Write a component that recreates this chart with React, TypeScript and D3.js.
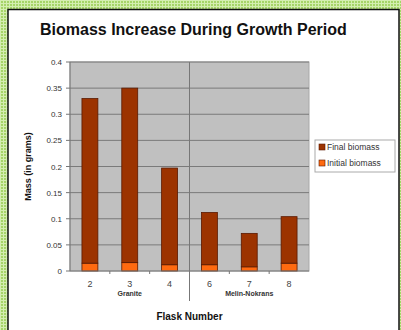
import React from "react";
import * as d3 from "d3";

const flasks = ["2", "3", "4", "6", "7", "8"];
const groups = ["Granite", "Melin-Nokrans"];
const groupOf = ["Granite", "Granite", "Granite", "Melin-Nokrans", "Melin-Nokrans", "Melin-Nokrans"];
const finalBiomass = [0.33, 0.35, 0.197, 0.112, 0.072, 0.104];
const initialBiomass = [0.015, 0.016, 0.012, 0.012, 0.008, 0.015];
const yTicks = [0, 0.05, 0.1, 0.15, 0.2, 0.25, 0.3, 0.35, 0.4];
const seriesNames = ["Final biomass", "Initial biomass"];
const seriesColors = ["#9c3300", "#ff6a10"];

const W = 401;
const H = 330;
const plot = { left: 70, right: 309, top: 62, bottom: 271 };
const font = "'Liberation Sans', Arial, sans-serif";

export default function App() {
  const x = d3.scaleBand<string>().domain(flasks).range([plot.left, plot.right]).paddingInner(0.6).paddingOuter(0.3);
  const step = x.step();
  const bw = x.bandwidth();
  const y = d3.scaleLinear().domain([0, 0.4]).range([plot.bottom, plot.top]);
  const fmt = (v: number) => (v === 0 ? "0" : String(v));

  const rows = flasks.map((f, i) => ({ flask: f, initial: initialBiomass[i], finalSeg: finalBiomass[i] - initialBiomass[i] }));
  const stack = d3.stack<any>().keys(["initial", "finalSeg"])(rows);

  const groupBounds = groups.map((g) => {
    const idx = groupOf.map((gg, i) => (gg === g ? i : -1)).filter((i) => i >= 0);
    const x0 = (x(flasks[idx[0]]) as number) + bw / 2;
    const x1 = (x(flasks[idx[idx.length - 1]]) as number) + bw / 2;
    return { g, cx: (x0 + x1) / 2, end: x1 + step / 2 };
  });

  return (
    <svg width={W} height={H} style={{ position: "absolute", left: 0, top: 0 }} fontFamily={font}>
      <defs>
        <pattern id="chk" width="3" height="3" patternUnits="userSpaceOnUse">
          <rect width="3" height="3" fill="#a6d468" />
          <rect width="1" height="3" fill="#d4eeb0" />
          <rect width="3" height="1" fill="#d4eeb0" />
        </pattern>
      </defs>
      <rect x={0} y={0} width={W} height={H} fill="url(#chk)" />
      <rect x={8} y={9.5} width={391} height={H} fill="#ffffff" stroke="#111" strokeWidth={1.5} />

      <text x={40} y={35} fontSize={16} fontWeight="bold" fill="#111">
        Biomass Increase During Growth Period
      </text>

      <rect x={plot.left} y={plot.top} width={plot.right - plot.left} height={plot.bottom - plot.top} fill="#c0c0c0" stroke="#a8a8a8" strokeWidth={1} />
      {yTicks.map((t) => (
        <g key={t}>
          {t > 0 && <line x1={plot.left} x2={plot.right} y1={y(t)} y2={y(t)} stroke="#7a7a7a" strokeWidth={1} />}
          <line x1={plot.left - 4} x2={plot.left} y1={y(t)} y2={y(t)} stroke="#777" strokeWidth={1} />
          <text x={plot.left - 8} y={y(t) + 3} fontSize={8} fill="#333" textAnchor="end">
            {fmt(t)}
          </text>
        </g>
      ))}
      <line x1={plot.left} x2={plot.left} y1={plot.top} y2={plot.bottom} stroke="#777" strokeWidth={1} />

      {stack.map((s, si) =>
        s.map((d, i) => (
          <rect
            key={si + "-" + i}
            x={x(flasks[i])}
            y={y(d[1])}
            width={bw}
            height={y(d[0]) - y(d[1])}
            fill={si === 0 ? seriesColors[1] : seriesColors[0]}
            stroke="#5a1a00"
            strokeWidth={0.8}
          />
        ))
      )}

      <line x1={plot.left} x2={plot.right} y1={plot.bottom} y2={plot.bottom} stroke="#777" strokeWidth={1} />
      {flasks.map((f, i) => (
        <g key={f}>
          {i > 0 && (
            <line x1={(x(f) as number) - (step - bw) / 2} x2={(x(f) as number) - (step - bw) / 2} y1={plot.bottom} y2={plot.bottom + 3} stroke="#777" />
          )}
          <text x={(x(f) as number) + bw / 2} y={plot.bottom + 16} fontSize={9} fill="#444" textAnchor="middle">
            {f}
          </text>
        </g>
      ))}
      {groupBounds.slice(0, -1).map((gb) => (
        <line key={gb.g} x1={gb.end} x2={gb.end} y1={plot.top} y2={plot.bottom + 30} stroke="#777" strokeWidth={1} />
      ))}
      {groupBounds.map((gb) => (
        <text key={gb.g} x={gb.cx} y={plot.bottom + 25} fontSize={7} fontWeight="bold" fill="#333" textAnchor="middle">
          {gb.g}
        </text>
      ))}

      <text x={(plot.left + plot.right) / 2} y={320} fontSize={10} fontWeight="bold" fill="#111" textAnchor="middle">
        Flask Number
      </text>
      <text transform={`translate(31,${(plot.top + plot.bottom) / 2}) rotate(-90)`} fontSize={9} fontWeight="bold" fill="#111" textAnchor="middle">
        Mass (in grams)
      </text>

      <rect x={315} y={140} width={80} height={32} fill="#fff" stroke="#aaa" strokeWidth={1} />
      {seriesNames.map((n, i) => (
        <g key={n}>
          <rect x={319} y={144 + i * 16} width={6} height={6} fill={seriesColors[i]} stroke="#5a1a00" strokeWidth={0.6} />
          <text x={327} y={150 + i * 16} fontSize={8.5} fill="#333">
            {n}
          </text>
        </g>
      ))}
    </svg>
  );
}
